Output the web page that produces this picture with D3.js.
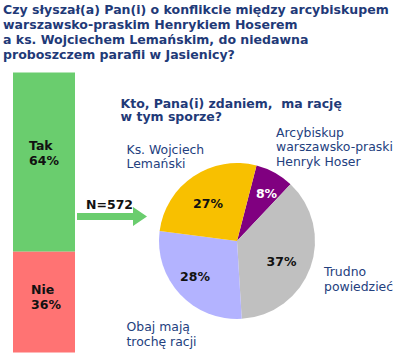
<!DOCTYPE html>
<html><head><meta charset="utf-8">
<script src="https://cdn.jsdelivr.net/npm/d3@7"></script>
<style>body{margin:0;background:#fff;} svg{display:block;font-family:"DejaVu Sans",Verdana,sans-serif;} text{white-space:pre;}</style>
</head><body><svg id="c" width="400" height="363"></svg>
<script>
const titleLines = ["Czy słyszał(a) Pan(i) o konflikcie między arcybiskupem","warszawsko-praskim Henrykiem Hoserem","a ks. Wojciechem Lemańskim, do niedawna","proboszczem parafii w Jasienicy?"];
const barCategories = ["Tak","Nie"];
const barValues = [64,36];
const sampleLabel = "N=572";
const pieTitle = ["Kto, Pana(i) zdaniem,  ma rację","w tym sporze?"];
const pieCategories = [["Arcybiskup","warszawsko-praski","Henryk Hoser"],["Trudno","powiedzieć"],["Obaj mają","trochę racji"],["Ks. Wojciech","Lemański"]];
const pieValues = [8,37,28,27];

const svg = d3.select("#c");
const navy = "#1f3a78";
const labelBlue = "#23407e";

// title (font size fitted so the first line spans like the reference)
const title = svg.append("text").attr("font-weight","bold").attr("font-size",12).attr("fill",navy);
title.selectAll("tspan").data(titleLines).join("tspan")
  .attr("x",3).attr("y",(d,i)=>14+i*15).text(d=>d);
const w0 = title.select("tspan").node().getComputedTextLength();
title.attr("font-size", Math.min(13, 12*386/w0));

// stacked bar
const y = d3.scaleLinear().domain([0,100]).range([72.5,352.5]);
const barColors = ["#6acd6e","#ff7373"];
let cum = 0;
const stacks = barValues.map((v,i)=>{const s={c:barCategories[i],v,y0:cum,y1:cum+v};cum+=v;return s;});
const bx0=13, bx1=75;
svg.selectAll("rect.bar").data(stacks).join("rect")
  .attr("x",bx0).attr("width",bx1-bx0)
  .attr("y",d=>y(d.y0)).attr("height",d=>y(d.y1)-y(d.y0))
  .attr("fill",(d,i)=>barColors[i]);
const barOffsets=[-9,-5];
stacks.forEach((d,i)=>{
  const cy=(y(d.y0)+y(d.y1))/2+barOffsets[i];
  const t=svg.append("text").attr("font-weight","bold").attr("font-size",12.5).attr("fill","#111");
  t.append("tspan").attr("x",29+(i?2:0)).attr("y",cy-3).text(d.c);
  t.append("tspan").attr("x",29+(i?2:0)).attr("y",cy+12).text(d.v+"%");
});

// arrow
svg.append("path").attr("fill","#6acd6e")
  .attr("d","M77,213 L133,213 L133,207 L147,216.5 L133,226 L133,220 L77,220 Z");
svg.append("text").attr("x",86).attr("y",209).attr("font-weight","bold").attr("font-size",12.5).attr("fill","#111").text(sampleLabel);

// pie title
svg.append("text").attr("font-weight","bold").attr("font-size",12.5).attr("fill",navy)
  .selectAll("tspan").data(pieTitle).join("tspan")
  .attr("x",120.5).attr("y",(d,i)=>107.5+i*13.5).text(d=>d);

// pie
const cx=237, cy=241, r=78;
const startA = 14.5*Math.PI/180;
const pie = d3.pie().sort(null).startAngle(startA).endAngle(startA+2*Math.PI)(pieValues);
const arc = d3.arc().innerRadius(0).outerRadius(r);
const pieColors=["#800080","#c0c0c0","#b3b3ff","#f8c000"];
const g=svg.append("g").attr("transform",`translate(${cx},${cy})`);
g.selectAll("path").data(pie).join("path").attr("d",arc).attr("fill",(d,i)=>pieColors[i]);
const valPos=[[266.5,197.5],[281.5,266],[195,280.5],[208,207.5]];
const valColors=["#fff","#111","#111","#111"];
pie.forEach((d,i)=>{
  svg.append("text").attr("x",valPos[i][0]).attr("y",valPos[i][1]).attr("text-anchor","middle")
    .attr("font-weight","bold").attr("font-size",12.5).attr("fill",valColors[i]).text(d.data+"%");
});
const labPos=[[276,136.5],[324,276],[126.5,331],[126.5,153.5]];
const labs = [];
pieCategories.forEach((lines,i)=>{
  const t = svg.append("text").attr("font-size",12).attr("fill",labelBlue);
  t.selectAll("tspan").data(lines).join("tspan")
    .attr("x",labPos[i][0]).attr("y",(d,j)=>labPos[i][1]+j*14.5).text(d=>d);
  labs.push(t);
});
const wl = labs[0].selectAll("tspan").nodes()[1].getComputedTextLength();
const lfs = Math.min(13, 12*117/wl);
labs.forEach(t=>t.attr("font-size",lfs));
</script></body></html>
